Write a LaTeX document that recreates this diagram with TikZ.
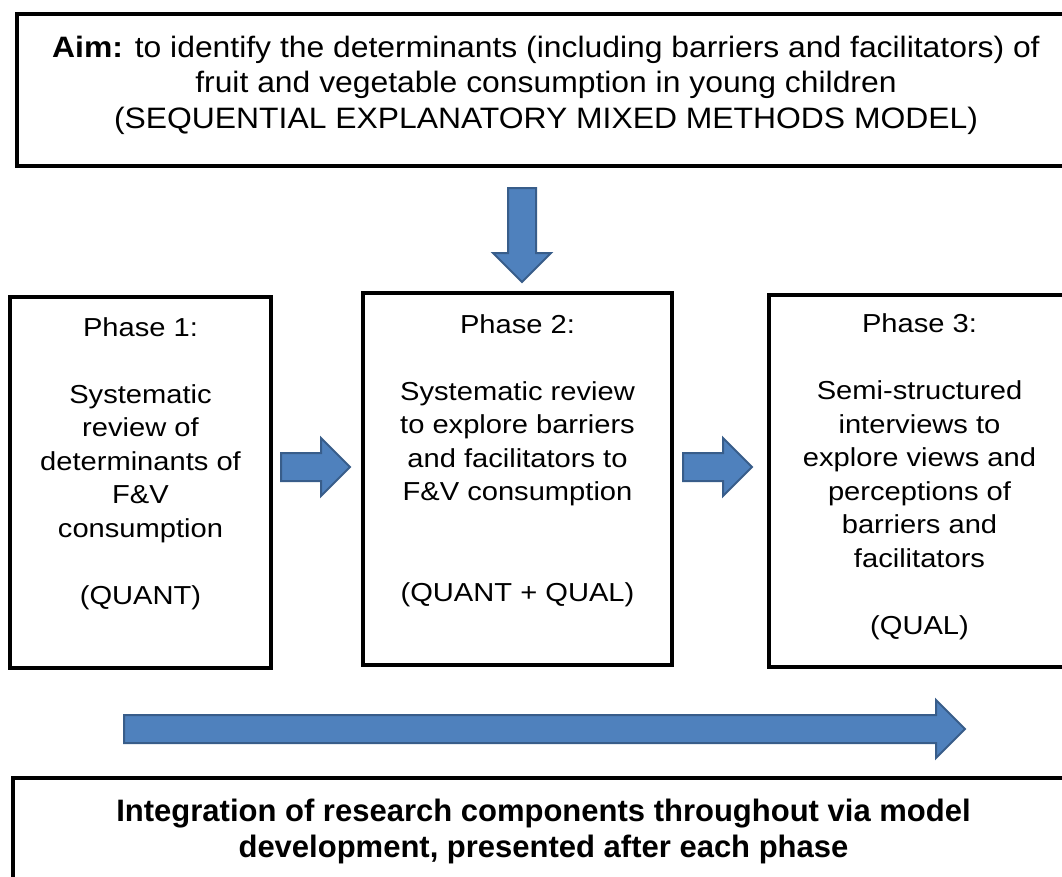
\documentclass[tikz,border=0pt]{standalone}
\usepackage{fontspec}
\setmainfont{Liberation Sans}
\newfontfamily\aimfont[FakeStretch=1.08]{Liberation Sans}
\newfontfamily\phasefont[FakeStretch=1.12]{Liberation Sans}
\usepackage{tikz}
\definecolor{ArrowBlue}{RGB}{79,129,189}
\definecolor{ArrowEdge}{RGB}{56,93,138}
\usetikzlibrary{shapes.arrows, calc}

\begin{document}
\begin{tikzpicture}[x=1pt, y=-1pt,
    box/.style={draw, line width=3.3pt, rectangle, inner sep=0pt},
    phasetext/.style={anchor=base, align=center, font=\phasefont\fontsize{26}{33.5}\selectfont},
    blockarrow/.style={single arrow, draw=ArrowEdge, line width=2pt, fill=ArrowBlue,
        inner sep=13pt, single arrow head extend=15pt, anchor=tail}]
    \useasboundingbox (0,0) rectangle (1062,876);
    \clip (0,0) rectangle (1062,876);
    % boxes
    \node[box, minimum width=1058pt, minimum height=152pt] (aim) at (546,90) {};
    \node[box, minimum width=261pt, minimum height=371pt] (p1) at (140.5,482.5) {};
    \node[box, minimum width=309pt, minimum height=372pt] (p2) at (517.5,479) {};
    \node[box, minimum width=301pt, minimum height=372pt] (p3) at (919.5,481) {};
    \node[box, minimum width=1061pt, minimum height=124pt] (integ) at (543.5,840) {};
    % texts (base = last line)
    \node[anchor=base, align=center, font=\aimfont\fontsize{29.5}{35.5}\selectfont] (aimtext) at (546,128)
        {\textbf{Aim:} to identify the determinants (including barriers and facilitators) of\\
         fruit and vegetable consumption in young children\\
         (SEQUENTIAL EXPLANATORY MIXED METHODS MODEL)};
    \node[phasetext] (p1text) at ([yshift=-309pt]p1.north)
        {Phase 1:\\ \\Systematic\\review of\\determinants of\\F\&V\\consumption\\ \\(QUANT)};
    \node[phasetext] (p2text) at ([yshift=-310pt]p2.north)
        {Phase 2:\\ \\Systematic review\\to explore barriers\\and facilitators to\\F\&V consumption\\ \\ \\(QUANT + QUAL)};
    \node[phasetext] (p3text) at ([yshift=-341pt]p3.north)
        {Phase 3:\\ \\Semi-structured\\interviews to\\explore views and\\perceptions of\\barriers and\\facilitators\\ \\(QUAL)};
    \node[anchor=base, align=center, font=\bfseries\fontsize{31}{36}\selectfont] (integtext) at (543.5,857)
        {Integration of research components throughout via model\\
         development, presented after each phase};
    % arrows
    \node[blockarrow, minimum height=94pt, shape border rotate=270] (down) at (522,187) {};
    \node[blockarrow, minimum height=69pt] (r1) at (280,467) {};
    \node[blockarrow, minimum height=69pt] (r2) at (682,467) {};
    \node[blockarrow, minimum height=841pt] (flow) at (123,729) {};
\end{tikzpicture}
\end{document}
